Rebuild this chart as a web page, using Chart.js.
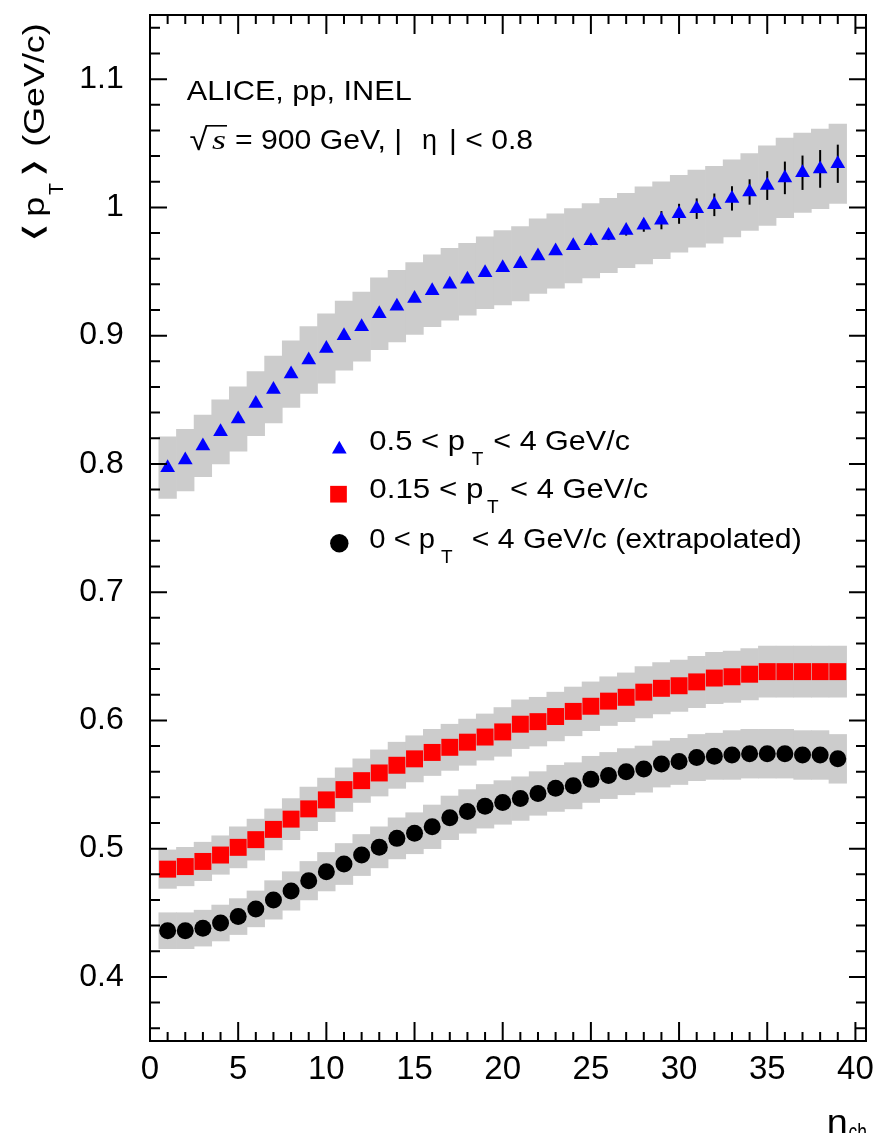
<!DOCTYPE html>
<html>
<head>
<meta charset="utf-8">
<script src="https://cdn.jsdelivr.net/npm/chart.js@4.4.1/dist/chart.umd.min.js"></script>
<style>
html,body{margin:0;padding:0;background:#ffffff;}
canvas{display:block;}
</style>
</head>
<body>
<canvas id="c" width="878" height="1133"></canvas>
<script>
// ---------------- data ----------------
const nch = [1,2,3,4,5,6,7,8,9,10,11,12,13,14,15,16,17,18,19,20,21,22,23,24,25,26,27,28,29,30,31,32,33,34,35,36,37,38,39];

// 0.5 < pT < 4 GeV/c
const ptHigh = [0.797,0.803,0.814,0.825,0.835,0.847,0.858,0.870,0.881,0.890,
                0.900,0.907,0.917,0.923,0.929,0.935,0.940,0.944,0.949,0.953,
                0.956,0.962,0.966,0.970,0.974,0.978,0.982,0.986,0.990,0.995,
                0.999,1.002,1.007,1.012,1.017,1.023,1.027,1.030,1.034];
const ptHighSys = [0.024,0.024,0.024,0.025,0.025,0.025,0.026,0.026,0.026,0.027,
                   0.027,0.027,0.028,0.028,0.028,0.028,0.028,0.028,0.028,0.029,
                   0.029,0.029,0.029,0.029,0.029,0.029,0.029,0.030,0.030,0.030,
                   0.030,0.030,0.030,0.030,0.031,0.031,0.031,0.031,0.031];
const ptHighStat = [0.001,0.001,0.001,0.001,0.001,0.001,0.001,0.001,0.001,0.001,
                    0.0015,0.0015,0.0015,0.002,0.002,0.002,0.002,0.0025,0.0025,0.0025,
                    0.003,0.003,0.003,0.003,0.0035,0.0035,0.004,0.005,0.0071,0.0078,
                    0.008,0.0088,0.0095,0.0099,0.0112,0.0127,0.0134,0.0147,0.0149];

// 0.15 < pT < 4 GeV/c
const ptMid = [0.484,0.486,0.490,0.495,0.501,0.507,0.515,0.523,0.531,0.538,
               0.546,0.553,0.559,0.565,0.570,0.575,0.579,0.583,0.587,0.591,
               0.597,0.599,0.603,0.607,0.611,0.615,0.618,0.622,0.625,0.627,
               0.630,0.633,0.634,0.636,0.638,0.638,0.638,0.638,0.638];
const ptMidSys = [0.015,0.015,0.015,0.015,0.016,0.016,0.016,0.016,0.017,0.017,
                  0.017,0.017,0.018,0.018,0.018,0.018,0.018,0.018,0.018,0.019,
                  0.019,0.019,0.019,0.019,0.019,0.019,0.019,0.020,0.020,0.020,
                  0.020,0.020,0.020,0.020,0.020,0.020,0.020,0.020,0.020];

// 0 < pT < 4 GeV/c (extrapolated)
const ptAll = [0.436,0.436,0.438,0.442,0.447,0.453,0.460,0.467,0.475,0.482,
               0.488,0.495,0.501,0.508,0.512,0.517,0.524,0.529,0.533,0.536,
               0.539,0.543,0.547,0.549,0.554,0.557,0.560,0.562,0.566,0.568,
               0.571,0.572,0.573,0.574,0.574,0.574,0.573,0.573,0.570];
const ptAllSys = [0.014,0.014,0.014,0.014,0.014,0.014,0.015,0.015,0.015,0.015,
                  0.016,0.016,0.016,0.016,0.016,0.017,0.017,0.017,0.017,0.017,
                  0.017,0.017,0.018,0.018,0.018,0.018,0.018,0.018,0.018,0.018,
                  0.018,0.018,0.019,0.019,0.019,0.019,0.019,0.019,0.019];

const xTicks = [0,5,10,15,20,25,30,35,40];
const xTickLabels = ['0','5','10','15','20','25','30','35','40'];
const yTicks = [0.4,0.5,0.6,0.7,0.8,0.9,1.0,1.1];
const yTickLabels = ['0.4','0.5','0.6','0.7','0.8','0.9','1','1.1'];

// ---------------- helpers ----------------
const SANS = "'Liberation Sans', Arial, Helvetica, sans-serif";
const band = (vals, err) => nch.map((x, i) => ({x: x, y: [vals[i] - err[i], vals[i] + err[i]]}));
const pts = vals => nch.map((x, i) => ({x: x, y: vals[i]}));

function txt(ctx, s, x, y, font, w) {
  ctx.font = font;
  const m = ctx.measureText(s).width;
  ctx.save();
  ctx.translate(x, y);
  if (w) ctx.scale(w / m, 1);
  ctx.fillText(s, 0, 0);
  ctx.restore();
}

// fit a glyph's ink box into [x0, x0+w] x [top, bottom] (local coordinates)
function fitGlyph(ctx, s, font, x0, w, top, bottom) {
  ctx.font = font;
  const m = ctx.measureText(s);
  const inkW = m.actualBoundingBoxLeft + m.actualBoundingBoxRight;
  const inkH = m.actualBoundingBoxAscent + m.actualBoundingBoxDescent;
  if (!(inkW > 0 && inkH > 0)) { ctx.fillText(s, x0, bottom); return; }
  const sx = w / inkW, sy = (bottom - top) / inkH;
  ctx.save();
  ctx.translate(x0 + m.actualBoundingBoxLeft * sx, top + m.actualBoundingBoxAscent * sy);
  ctx.scale(sx, sy);
  ctx.fillText(s, 0, 0);
  ctx.restore();
}

function marker(ctx, style, x, y, r, color) {
  ctx.save();
  ctx.fillStyle = color;
  ctx.beginPath();
  if (style === 'triangle') {
    ctx.moveTo(x, y - r);
    ctx.lineTo(x + r * Math.sin(2 * Math.PI / 3), y + r / 2);
    ctx.lineTo(x - r * Math.sin(2 * Math.PI / 3), y + r / 2);
    ctx.closePath();
  } else if (style === 'rect') {
    const s = r * Math.SQRT1_2;
    ctx.rect(x - s, y - s, 2 * s, 2 * s);
  } else {
    ctx.arc(x, y, r, 0, 2 * Math.PI);
  }
  ctx.fill();
  ctx.restore();
}

// frame + inward ticks on all four sides
const framePlugin = {
  id: 'frameTicks',
  afterDatasetsDraw(chart) {
    const {ctx, chartArea: a, scales: {x, y}} = chart;
    ctx.save();
    ctx.strokeStyle = '#000';
    ctx.lineWidth = 2;
    ctx.beginPath();
    for (let v = 0; v <= 40; v++) {
      const px = x.getPixelForValue(v);
      const L = v % 5 === 0 ? 19 : 9;
      ctx.moveTo(px, a.bottom); ctx.lineTo(px, a.bottom - L);
      ctx.moveTo(px, a.top); ctx.lineTo(px, a.top + L);
    }
    for (let k = 18; k <= 57; k++) {
      const py = y.getPixelForValue(k * 0.02);
      const L = k % 5 === 0 ? 17 : 10;
      ctx.moveTo(a.left, py); ctx.lineTo(a.left + L, py);
      ctx.moveTo(a.right, py); ctx.lineTo(a.right - L, py);
    }
    ctx.stroke();
    ctx.strokeRect(a.left, a.top, a.right - a.left, a.bottom - a.top);
    ctx.restore();
  }
};

// labels, legend and axis titles
const BRACKET_FONT = "200 30px 'DejaVu Sans', sans-serif";
const textPlugin = {
  id: 'texts',
  afterDraw(chart) {
    const ctx = chart.ctx;
    ctx.save();
    ctx.fillStyle = '#000';
    ctx.strokeStyle = '#000';
    ctx.textAlign = 'left';
    ctx.textBaseline = 'alphabetic';

    // header
    txt(ctx, 'ALICE, pp, INEL', 186.7, 100, '28px ' + SANS, 225);
    fitGlyph(ctx, '\u221A', '28px ' + SANS, 189.5, 19, 125, 151);
    ctx.lineWidth = 1.6;
    ctx.beginPath(); ctx.moveTo(206, 125.8); ctx.lineTo(227, 125.8); ctx.stroke();
    txt(ctx, 's', 212, 148.5, "italic 28px 'Liberation Serif', 'Times New Roman', serif", 14);
    txt(ctx, '= 900 GeV, |', 235, 148.5, '28px ' + SANS, 167);
    txt(ctx, '\u03B7', 422, 148.5, '28px ' + SANS, 15);
    txt(ctx, '| < 0.8', 449, 148.5, '28px ' + SANS, 84);

    // legend
    const F = '28px ' + SANS, FS = '19px ' + SANS;
    marker(ctx, 'triangle', 339.3, 449.3, 8.5, '#0000ff');
    txt(ctx, '0.5 < p', 369.3, 450, F, 95.7);
    txt(ctx, 'T', 471.7, 465, FS, 11.6);
    txt(ctx, '< 4 GeV/c', 493.3, 450, F, 136.7);

    marker(ctx, 'rect', 338.5, 494.2, 11.8, '#ff0000');
    txt(ctx, '0.15 < p', 369.3, 498.3, F, 114);
    txt(ctx, 'T', 487, 513, FS, 11.6);
    txt(ctx, '< 4 GeV/c', 510, 498.3, F, 138.3);

    marker(ctx, 'circle', 339.3, 543.3, 9.2, '#000000');
    txt(ctx, '0 < p', 369.3, 548.3, F, 65.7);
    txt(ctx, 'T', 441, 562.5, FS, 11.6);
    txt(ctx, '< 4 GeV/c (extrapolated)', 471.7, 548.3, F, 330);

    // y axis title (rotated; local x runs upward, local y points right)
    ctx.save();
    ctx.translate(43.5, 240);
    ctx.rotate(-Math.PI / 2);
    fitGlyph(ctx, '\u27E8', BRACKET_FONT, 1, 14, -21.5, 3.5);
    txt(ctx, 'p', 23.3, 0, '29px ' + SANS, 20);
    txt(ctx, 'T', 45, 19.5, '20px ' + SANS, 12);
    fitGlyph(ctx, '\u27E9', BRACKET_FONT, 66, 14, -21.5, 3.5);
    txt(ctx, '(GeV/c)', 93.3, 0, '29px ' + SANS, 123.4);
    ctx.restore();

    // x axis title
    txt(ctx, 'n', 826.7, 1132.6, '34px ' + SANS, 21);
    txt(ctx, 'ch', 848.5, 1140, '24px ' + SANS, 18.5);
    ctx.restore();
  }
};

// ---------------- chart ----------------
const BAND = '#cccccc';
new Chart(document.getElementById('c'), {
  type: 'scatter',
  data: {
    datasets: [
      {type: 'bar', label: 'sys 0.5', data: band(ptHigh, ptHighSys), backgroundColor: BAND, borderWidth: 0,
       grouped: false, barPercentage: 1, categoryPercentage: 1, order: 3},
      {type: 'bar', label: 'sys 0.15', data: band(ptMid, ptMidSys), backgroundColor: BAND, borderWidth: 0,
       grouped: false, barPercentage: 1, categoryPercentage: 1, order: 3},
      {type: 'bar', label: 'sys 0', data: band(ptAll, ptAllSys), backgroundColor: BAND, borderWidth: 0,
       grouped: false, barPercentage: 1, categoryPercentage: 1, order: 3},
      {type: 'bar', label: 'stat 0.5', data: band(ptHigh, ptHighStat), backgroundColor: '#000000', borderWidth: 0,
       grouped: false, barThickness: 2, maxBarThickness: 2, inflateAmount: 0, order: 2},
      {type: 'scatter', label: '0.5 < pT < 4 GeV/c', data: pts(ptHigh), pointStyle: 'triangle', pointRadius: 8.5,
       pointBackgroundColor: '#0000ff', backgroundColor: '#0000ff', pointBorderWidth: 0, borderWidth: 0, order: 1},
      {type: 'scatter', label: '0.15 < pT < 4 GeV/c', data: pts(ptMid), pointStyle: 'rect', pointRadius: 12,
       pointBackgroundColor: '#ff0000', backgroundColor: '#ff0000', pointBorderWidth: 0, borderWidth: 0, order: 1},
      {type: 'scatter', label: '0 < pT < 4 GeV/c (extrapolated)', data: pts(ptAll), pointStyle: 'circle', pointRadius: 8.5,
       pointBackgroundColor: '#000000', backgroundColor: '#000000', pointBorderWidth: 0, borderWidth: 0, order: 1}
    ]
  },
  options: {
    responsive: false,
    maintainAspectRatio: false,
    animation: false,
    devicePixelRatio: 1,
    events: [],
    layout: {padding: {left: 0, right: 9, top: 15, bottom: 0}},
    plugins: {legend: {display: false}, tooltip: {enabled: false}},
    scales: {
      x: {
        type: 'linear', min: 0, max: 40.6, offset: false,
        grid: {display: false, offset: false}, border: {display: false},
        afterBuildTicks: s => { s.ticks = xTicks.map(v => ({value: v})); },
        afterFit: s => { s.height = 92; s.paddingLeft = 0; s.paddingRight = 0; },
        ticks: {
          autoSkip: false, maxRotation: 0, padding: 1, color: '#000',
          font: {family: SANS, size: 33},
          callback: (v, i) => xTickLabels[i]
        }
      },
      y: {
        type: 'linear', min: 0.35, max: 1.15,
        grid: {display: false}, border: {display: false},
        afterBuildTicks: s => { s.ticks = yTicks.map(v => ({value: v})); },
        afterFit: s => { s.width = 150; s.paddingTop = 0; s.paddingBottom = 0; },
        ticks: {
          autoSkip: false, padding: 18.3, color: '#000',
          font: {family: SANS, size: 32},
          callback: (v, i) => yTickLabels[i]
        }
      }
    }
  },
  plugins: [framePlugin, textPlugin]
});
</script>
</body>
</html>
